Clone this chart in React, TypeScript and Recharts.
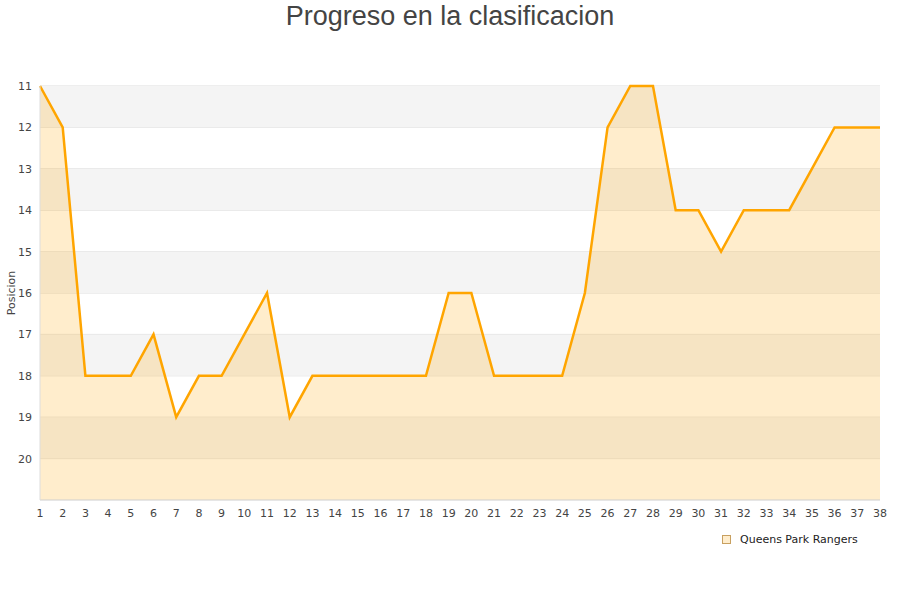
import React from "react"
import { Area, AreaChart, CartesianGrid, ReferenceArea, XAxis, YAxis } from "recharts"

const jornadas = [
  1, 2, 3, 4, 5, 6, 7, 8, 9, 10, 11, 12, 13, 14, 15, 16, 17, 18, 19,
  20, 21, 22, 23, 24, 25, 26, 27, 28, 29, 30, 31, 32, 33, 34, 35, 36, 37, 38,
]
const posiciones = [
  11, 12, 18, 18, 18, 17, 19, 18, 18, 17, 16, 19, 18, 18, 18, 18, 18, 18, 16,
  16, 18, 18, 18, 18, 16, 12, 11, 11, 14, 14, 15, 14, 14, 14, 13, 12, 12, 12,
]
const yTicks = [11, 12, 13, 14, 15, 16, 17, 18, 19, 20]
const greyBands = [11, 13, 15, 17, 19]

const equipo = "Queens Park Rangers"
const naranja = "#ffa500"

const data = jornadas.map((j, i) => ({ jornada: j, pos: posiciones[i] }))

const tickStyle = { fontFamily: "DejaVu Sans", fontSize: 11, fill: "#444" }

// y-axis title, centred on the plot height
const AxisTitle = (props: any) => {
  const vb = props.viewBox || { x: 0, y: 0, height: 0 }
  const cy = vb.y + vb.height / 2
  return (
    <text
      x={15}
      y={cy}
      transform={`rotate(-90 15 ${cy})`}
      textAnchor="middle"
      style={{ fontFamily: "DejaVu Sans", fontSize: 11, fill: "#444" }}
    >
      Posicion
    </text>
  )
}

export default function App() {
  return (
    <div style={{ position: "relative", width: 900, height: 600 }}>
      <style>{"body{margin:0}"}</style>
      <div
        style={{
          position: "absolute",
          top: 0,
          left: 0,
          width: 900,
          textAlign: "center",
          fontFamily: "Liberation Sans",
          fontSize: 27,
          color: "#444",
          lineHeight: "32px",
        }}
      >
        Progreso en la clasificacion
      </div>
      <AreaChart width={900} height={600} data={data} margin={{ top: 86, right: 20, bottom: 70, left: 0 }}>
        {greyBands.map((b) => (
          <ReferenceArea key={b} y1={b} y2={b + 1} fill="#f4f4f4" fillOpacity={1} stroke="none" ifOverflow="hidden" />
        ))}
        <CartesianGrid vertical={false} stroke="#dddddd" />
        <XAxis
          dataKey="jornada"
          type="number"
          domain={[1, 38]}
          ticks={jornadas}
          interval={0}
          tick={tickStyle}
          tickLine={false}
          axisLine={{ stroke: "#dddddd" }}
          height={30}
          tickMargin={3}
        />
        <YAxis
          reversed
          type="number"
          domain={[11, 21]}
          ticks={yTicks}
          interval={0}
          tick={tickStyle}
          tickLine={false}
          axisLine={{ stroke: "#dddddd" }}
          width={40}
          tickMargin={2}
          label={<AxisTitle />}
        />
        <ReferenceArea x1={38} x2={38} y1={11} y2={21} stroke="#dddddd" fill="none" />
        <Area
          type="linear"
          dataKey="pos"
          stroke={naranja}
          strokeWidth={2.5}
          fill={naranja}
          fillOpacity={0.2}
          baseValue={21}
          dot={false}
          activeDot={false}
          isAnimationActive={false}
        />
      </AreaChart>
      <div
        style={{
          position: "absolute",
          left: 722,
          top: 533,
          display: "flex",
          alignItems: "center",
          fontFamily: "DejaVu Sans",
          fontSize: 11,
          color: "#222",
        }}
      >
        <span
          style={{
            display: "inline-block",
            width: 7,
            height: 7,
            border: "1px solid #c8a060",
            background: "#ffedcc",
            marginRight: 9,
          }}
        />
        {equipo}
      </div>
    </div>
  )
}
